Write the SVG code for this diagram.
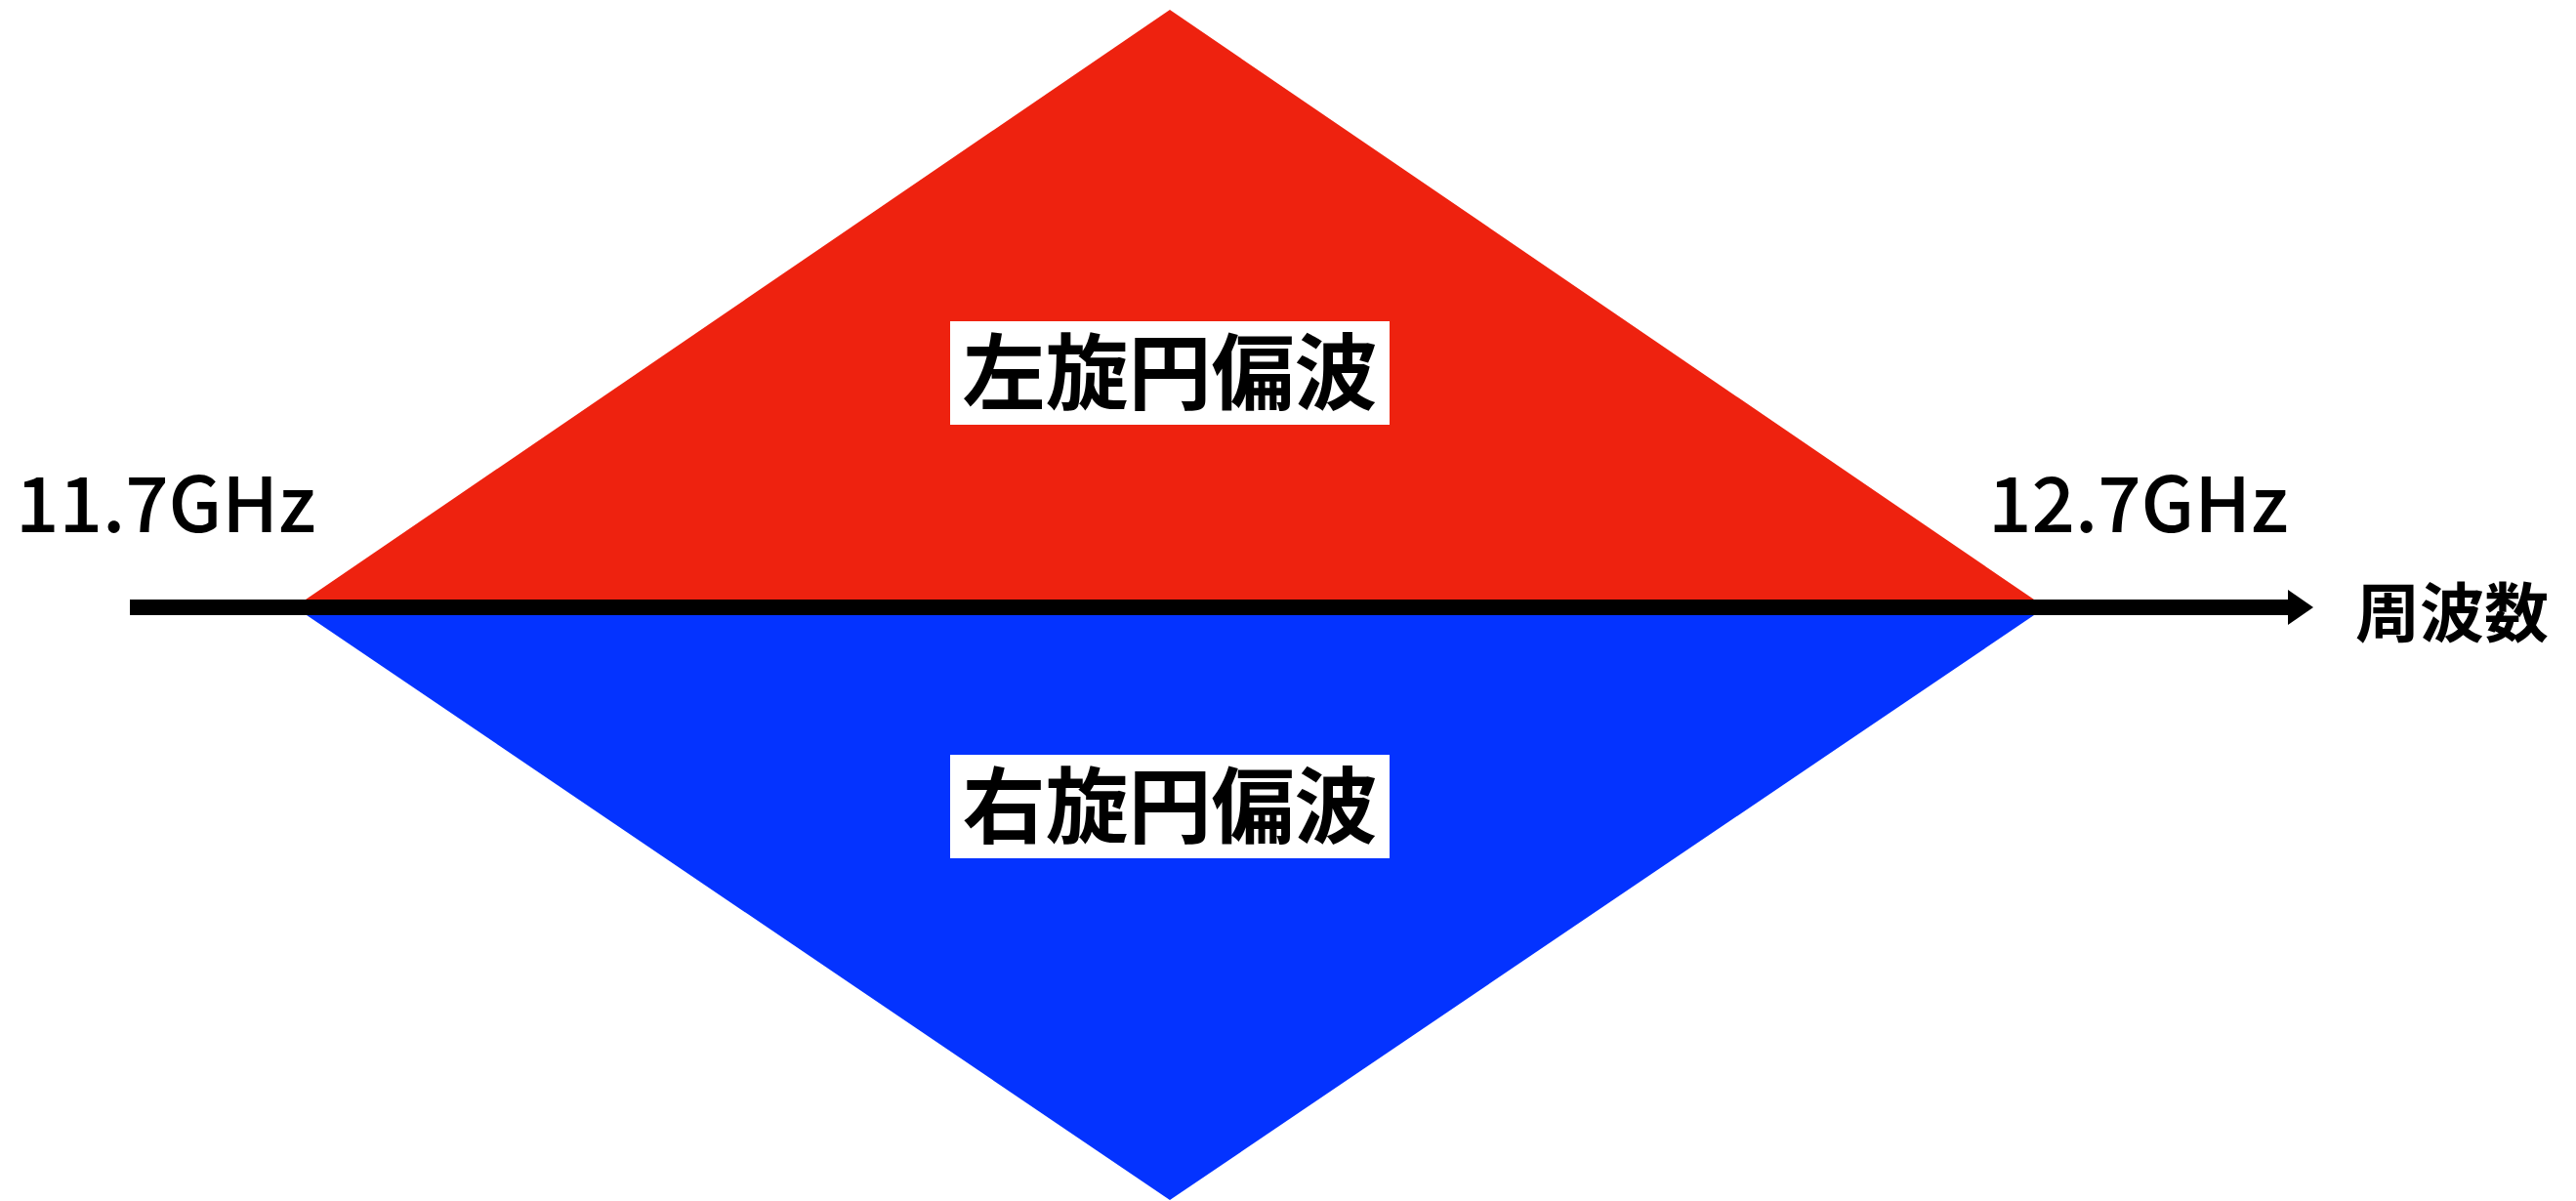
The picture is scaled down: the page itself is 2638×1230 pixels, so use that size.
<svg xmlns="http://www.w3.org/2000/svg" width="2638" height="1230" viewBox="0 0 2638 1230">
  <style>
    .cjk { font-family: "Noto Sans CJK JP", "Noto Sans CJK SC", sans-serif; font-weight: 700; fill: #000; }
    .freq { font-family: "Noto Sans CJK JP", "Noto Sans", sans-serif; font-weight: 500; font-size: 78px; fill: #000; }
    .box { fill: #fff; }
  </style>
  <defs>
    <marker id="arrow" markerUnits="userSpaceOnUse" markerWidth="26" markerHeight="36" refX="0" refY="18" orient="auto">
      <polygon points="0,0 26,18 0,36" fill="#000"/>
    </marker>
  </defs>
  <rect width="2638" height="1230" fill="#fff"/>
  <g id="lhcp">
    <polygon points="1198,10 313,614 2083,614" fill="#EE220F"/>
    <rect class="box" x="973" y="329" width="450" height="106"/>
    <text class="cjk" x="1198" y="413" font-size="85" text-anchor="middle">左旋円偏波</text>
  </g>
  <g id="rhcp">
    <polygon points="314,630 2083,630 1198,1229" fill="#0433FF"/>
    <rect class="box" x="973" y="773" width="450" height="106"/>
    <text class="cjk" x="1198" y="857" font-size="85" text-anchor="middle">右旋円偏波</text>
  </g>
  <g id="freq-low">
    <text class="freq" x="16" y="545">11.7GHz</text>
  </g>
  <g id="freq-high">
    <text class="freq" x="2036" y="545">12.7GHz</text>
  </g>
  <g id="axis-label">
    <text class="cjk" x="2412" y="652" font-size="66">周波数</text>
  </g>
  <g id="connectors">
    <line x1="133" y1="622" x2="2343" y2="622" stroke="#000" stroke-width="16" marker-end="url(#arrow)"/>
  </g>
</svg>
